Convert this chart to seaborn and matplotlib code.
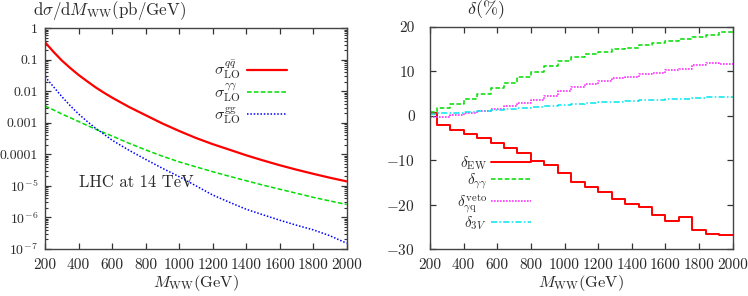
import numpy as np
import pandas as pd
import matplotlib
matplotlib.use("Agg")
import matplotlib.pyplot as plt
from matplotlib.legend import Legend
import seaborn as sns

# ---------------- data ----------------
mass = [200, 250, 300, 350, 400, 450, 500, 550, 600, 700, 800, 900, 1000,
        1100, 1200, 1300, 1400, 1500, 1600, 1700, 1800, 1900, 2000]
sigma_qq = [0.36, 0.18, 0.095, 0.055, 0.033, 0.021, 0.0135, 0.0091, 0.0063,
            0.0032, 0.00174, 9.5e-4, 5.5e-4, 3.3e-4, 2.1e-4, 1.4e-4, 9.3e-5,
            6.4e-5, 4.5e-5, 3.25e-5, 2.4e-5, 1.8e-5, 1.38e-5]
sigma_aa = [3.4e-3, 2.57e-3, 1.9e-3, 1.45e-3, 1.1e-3, 8.3e-4, 6.3e-4, 4.9e-4,
            3.8e-4, 2.25e-4, 1.38e-4, 8.7e-5, 5.75e-5, 4.0e-5, 2.8e-5, 2.0e-5,
            1.45e-5, 1.05e-5, 7.8e-6, 5.8e-6, 4.3e-6, 3.3e-6, 2.55e-6]
sigma_gg = [0.029, 0.014, 6.8e-3, 3.5e-3, 1.9e-3, 1.12e-3, 6.8e-4, 4.4e-4,
            2.8e-4, 1.35e-4, 6.9e-5, 3.6e-5, 1.95e-5, 1.0e-5, 5.1e-6, 3.0e-6,
            1.8e-6, 1.2e-6, 8.1e-7, 5.6e-7, 4.0e-7, 2.6e-7, 1.5e-7]

bin_edges = [200, 240, 320, 400, 480, 560, 640, 720, 800, 880, 960, 1040, 1120,
             1200, 1280, 1360, 1440, 1520, 1600, 1680, 1760, 1840, 1920, 2000]
delta_ew = [0.6, -2.0, -3.2, -4.1, -5.1, -6.2, -7.3, -8.4, -10.2, -11.1, -12.8,
            -15.0, -16.0, -17.2, -18.7, -19.9, -20.6, -22.4, -23.7, -22.9,
            -25.7, -26.6, -26.9]
delta_aa = [0.75, 1.7, 2.7, 3.8, 4.9, 6.1, 7.4, 8.6, 9.9, 11.1, 12.2, 13.1,
            13.8, 14.4, 14.9, 15.3, 15.9, 16.3, 16.8, 17.2, 17.7, 18.2, 18.7]
delta_veto = [-0.3, -0.2, 0.2, 0.6, 1.0, 1.5, 2.1, 2.8, 3.6, 4.5, 5.5, 6.4, 7.0,
              7.7, 8.4, 8.7, 9.4, 9.6, 10.2, 10.5, 11.4, 11.9, 11.6]
delta_3v = [0.3, 0.5, 0.7, 0.9, 1.1, 1.3, 1.5, 1.75, 1.95, 2.2, 2.4, 2.6, 2.8,
            3.0, 3.15, 3.3, 3.45, 3.6, 3.7, 3.85, 4.0, 4.1, 4.3]

x_ticks = [200, 400, 600, 800, 1000, 1200, 1400, 1600, 1800, 2000]
left_yticks = [1e-7, 1e-6, 1e-5, 1e-4, 1e-3, 1e-2, 1e-1, 1]
left_ylabels = [r"$10^{-7}$", r"$10^{-6}$", r"$10^{-5}$", "0.0001", "0.001",
                "0.01", "0.1", "1"]
right_yticks = [-30, -20, -10, 0, 10, 20]
right_ylabels = [r"$-30$", r"$-20$", r"$-10$", "0", "10", "20"]

# ---------------- style ----------------
sns.set_style("ticks")
plt.rcParams["font.family"] = ["serif"]
plt.rcParams["font.serif"] = ["cmr10", "DejaVu Serif"]
plt.rcParams["mathtext.fontset"] = "cm"
plt.rcParams["axes.formatter.use_mathtext"] = True
TXT = "#2a2a2a"
plt.rcParams["text.color"] = TXT

fig = plt.figure(figsize=(7.48, 2.96), dpi=100)
axL = fig.add_axes([0.0602, 0.1595, 0.4033, 0.745])
axR = fig.add_axes([0.5749, 0.1588, 0.4047, 0.751])

# ---------------- left panel ----------------
df_left = pd.DataFrame({"M": mass, "qq": sigma_qq, "aa": sigma_aa, "gg": sigma_gg})
sns.lineplot(data=df_left, x="M", y="qq", ax=axL, color="#ff0000", lw=1.6,
             label=r"$\sigma_{\rm LO}^{q\bar{q}}$")
sns.lineplot(data=df_left, x="M", y="aa", ax=axL, color="#00dd00", lw=1.1,
             linestyle=(0, (3, 1.5)),
             label=r"$\sigma_{\rm LO}^{\gamma\gamma}$")
sns.lineplot(data=df_left, x="M", y="gg", ax=axL, color="#0000ff", lw=1.1,
             linestyle=(0, (1, 1.2)),
             label=r"$\sigma_{\rm LO}^{\rm gg}$")
axL.set_yscale("log")
axL.set_xlim(200, 2000)
axL.set_ylim(1e-7, 1)
axL.set_xticks(x_ticks)
axL.set_xticklabels([str(t) for t in x_ticks])
axL.set_yticks(left_yticks)
axL.set_yticklabels(left_ylabels)
axL.yaxis.set_minor_locator(matplotlib.ticker.LogLocator(base=10, subs=np.arange(2, 10), numticks=20))
axL.yaxis.set_minor_formatter(matplotlib.ticker.NullFormatter())
axL.set_xlabel(r"$M_{\rm WW}(\mathrm{GeV})$", fontsize=11.8, labelpad=1)
axL.set_ylabel("")
axL.text(0.113, 0.303, "LHC at 14 TeV", transform=axL.transAxes, fontsize=12,
         ha="left", va="center", color=TXT)

# ---------------- right panel ----------------
def steps(vals):
    return pd.DataFrame({"M": bin_edges, "d": list(vals) + [vals[-1]]})

sns.lineplot(data=steps(delta_ew), x="M", y="d", ax=axR, color="#ff0000", lw=1.4,
             drawstyle="steps-post", label=r"$\delta_{\rm EW}$")
sns.lineplot(data=steps(delta_aa), x="M", y="d", ax=axR, color="#00dd00", lw=1.1,
             drawstyle="steps-post", linestyle=(0, (3, 1.5)),
             label=r"$\delta_{\gamma\gamma}$")
sns.lineplot(data=steps(delta_veto), x="M", y="d", ax=axR, color="#ff33ff", lw=1.2,
             drawstyle="steps-post", linestyle=(0, (1, 0.8)),
             label=r"$\delta_{\gamma{\rm q}}^{\rm veto}$")
sns.lineplot(data=steps(delta_3v), x="M", y="d", ax=axR, color="#00e5ee", lw=1.1,
             drawstyle="steps-post", linestyle=(0, (4, 1.5, 1, 1.5)),
             label=r"$\delta_{3V}$")
axR.set_xlim(200, 2000)
axR.set_ylim(-30, 20)
axR.set_xticks(x_ticks)
axR.set_xticklabels([str(t) for t in x_ticks])
axR.set_yticks(right_yticks)
axR.set_yticklabels(right_ylabels)
axR.set_xlabel(r"$M_{\rm WW}(\mathrm{GeV})$", fontsize=11.8, labelpad=1)
axR.set_ylabel("")

# gnuplot-like keys: text right-justified against a fixed line sample
def gnuplot_key(ax, x_right, rows, fontsize, hlen, hpad):
    handles, labels = ax.get_legend_handles_labels()
    if ax.get_legend() is not None:
        ax.get_legend().remove()
    for h, l, y in zip(handles, labels, rows):
        leg = Legend(ax, [h], [l], loc="center right", bbox_to_anchor=(x_right, y),
                     bbox_transform=ax.transAxes, frameon=False, markerfirst=False,
                     fontsize=fontsize, handlelength=hlen, handletextpad=hpad,
                     borderpad=0, borderaxespad=0)
        ax.add_artist(leg)

gnuplot_key(axL, 0.802, [0.811, 0.708, 0.603], 11.5, 2.5, 0.45)
gnuplot_key(axR, 0.334, [0.385, 0.303, 0.205, 0.118], 11, 2.65, 0.25)

for ax in (axL, axR):
    for sp in ax.spines.values():
        sp.set_visible(True)
        sp.set_color("#444444")
        sp.set_linewidth(1.0)
    ax.tick_params(which="major", direction="in", top=True, right=True,
                   length=4.5, width=0.9, color="#333333", labelsize=11,
                   labelcolor=TXT)
    ax.tick_params(which="minor", direction="in", top=True, right=True,
                   length=2.5, width=0.8, color="#333333")
    ax.tick_params(axis="x", which="major", pad=6.5)
axL.tick_params(axis="y", which="major", pad=5, labelsize=10)
axR.tick_params(axis="y", which="major", pad=11)

# titles above axes
fig.text(33 / 748, 1 - 11 / 296, r"$\mathrm{d}\sigma/\mathrm{d}M_{\rm WW}(\mathrm{pb/GeV})$",
         ha="left", va="center", fontsize=12.2, color=TXT)
fig.text(486 / 748, 1 - 10 / 296, r"$\delta(\%)$", ha="center", va="center",
         fontsize=13, color=TXT)

fig.savefig("out.png", dpi=100)
